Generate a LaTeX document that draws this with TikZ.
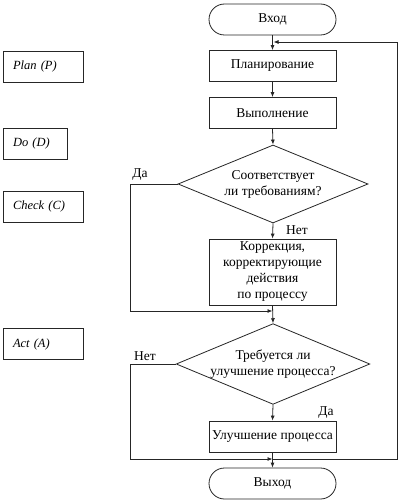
\documentclass[tikz,border=0pt]{standalone}
\usepackage{fontspec}
\setmainfont{Liberation Serif}
\usetikzlibrary{shapes.geometric,arrows.meta}
\begin{document}
\begin{tikzpicture}[x=1pt,y=-1pt,
  every node/.style={font=\fontsize{13.5}{16}\selectfont},
  ln/.style={draw=black!85,line width=0.8pt},
  arr/.style={ln,-{Latex[length=5pt,width=4pt]}},
  box/.style={ln,rectangle,minimum width=127pt,minimum height=31pt,inner sep=2pt,align=center},
  term/.style={box,rounded corners=15.5pt},
  dec/.style={ln,diamond,minimum width=190pt,minimum height=78pt,inner sep=0pt,shape aspect=2.4,align=center},
  pd/.style={ln,rectangle,minimum height=31pt,inner xsep=10pt,align=left,font=\fontsize{12.5}{15}\selectfont\itshape},
  lbl/.style={inner sep=0pt}
]
\useasboundingbox (0,0) rectangle (400,500);
\fill[white] (0,0) rectangle (400,500);

% left PDCA boxes
\node[pd,text width=60pt] (P) at (43,66.5) {Plan (P)};
\node[pd,text width=44pt] (D) at (35,143.5) {Do (D)};
\node[pd,text width=60pt] (C) at (43,206.5) {Check (C)};
\node[pd,text width=60pt] (A) at (43,344) {Act (A)};

% main flow
\node[term] (in) at (272.5,19.5) {Вход};
\node[box] (plan) at (272.5,66) {Планирование};
\node[box] (exe) at (272.5,113) {Выполнение};
\node[dec] (d1) at (273,184) {Соответствует\\ли требованиям?};
\node[box,minimum height=66pt] (corr) at (272.5,272) {Коррекция,\\корректирующие\\действия\\по процессу};
\node[dec] (d2) at (273,364) {Требуется ли\\улучшение процесса?};
\node[box] (imp) at (272.5,436.5) {Улучшение процесса};
\node[term] (out) at (272.5,483.5) {Выход};

\coordinate (jtop) at (273,42);
\coordinate (j1) at (273,311);
\coordinate (j2) at (273,459);
\coordinate (rt) at (397,42);
\coordinate (rb) at (397,459);
\coordinate (l1) at (130,184);
\coordinate (l1b) at (130,311);
\coordinate (l2) at (130,364);
\coordinate (l2b) at (130,459);

\draw[arr] (in.south) -- (plan.north);
\draw[arr] (plan) -- (exe);
\draw[arr] (exe.south) -- (d1.north);
\draw[arr] (d1.south) -- (corr.north);
\draw[arr] (corr.south) -- (d2.north);
\draw[arr] (d2.south) -- (imp.north);
\draw[arr] (imp.south) -- (out.north);

\draw[arr] (d1.west) -- (l1) -- (l1b) -- ([xshift=-0.5pt]j1);
\draw[arr] (d2.west) -- (l2) -- (l2b) -- ([xshift=-0.5pt]j2);
\draw[arr] (j2) -- (rb) -- (rt) -- ([xshift=0.5pt]jtop);

\node[lbl] (da1) at (140,175) {Да};
\node[lbl] (net1) at (297,230) {Нет};
\node[lbl] (net2) at (145,356) {Нет};
\node[lbl] (da2) at (326,413) {Да};
\end{tikzpicture}
\end{document}
